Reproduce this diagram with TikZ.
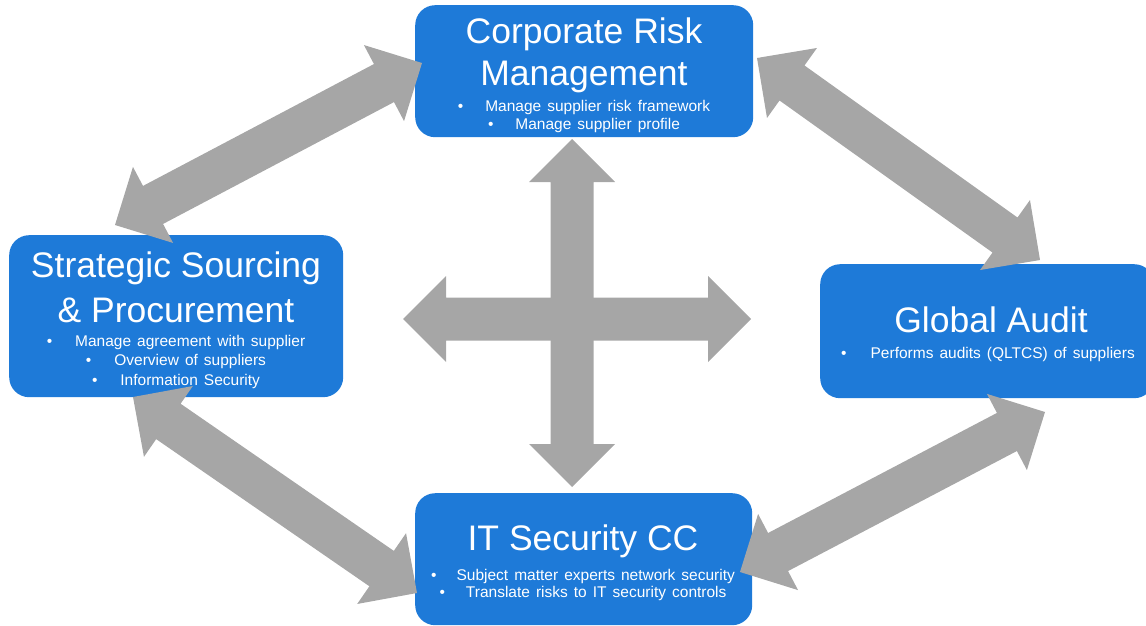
\documentclass[tikz,border=0pt]{standalone}
\usepackage{fontspec}
\setmainfont{Liberation Sans}
\newfontfamily\bulletfont[WordSpace=1.4]{Liberation Sans}
\usetikzlibrary{calc}
\definecolor{boxblue}{RGB}{30,122,216}
\definecolor{arrgray}{RGB}{166,166,166}
\newcommand{\dblarrow}[2]{%
  \coordinate (#1h) at ($(#1)!43pt!(#2)$);
  \coordinate (#2h) at ($(#2)!43pt!(#1)$);
  \fill[arrowfill] (#1) -- ($(#1h)!43pt!90:(#2)$) -- ($(#1h)!21.5pt!90:(#2)$)
    -- ($(#2h)!21.5pt!90:(#2)$) -- ($(#2h)!43pt!90:(#2)$) -- (#2)
    -- ($(#2h)!43pt!-90:(#2)$) -- ($(#2h)!21.5pt!-90:(#2)$)
    -- ($(#1h)!21.5pt!-90:(#2)$) -- ($(#1h)!43pt!-90:(#2)$) -- cycle;
}
\begin{document}
\begin{tikzpicture}[x=1pt,y=-1pt,
  box/.style={fill=boxblue, draw=none, rounded corners=20pt, inner sep=0pt, anchor=north west},
  title/.style={text=white, font=\fontsize{35.5}{40}\selectfont, inner sep=0pt, anchor=base},
  bul/.style={text=white, font=\bulletfont\fontsize{15.5}{18}\selectfont, inner sep=0pt, anchor=base},
  arrowfill/.style={fill=arrgray, draw=none}]
\useasboundingbox (0,0) rectangle (1146,626);
% boxes
\node[box, minimum width=338pt, minimum height=132pt] (crm) at (415,5) {};
\node[box, minimum width=334pt, minimum height=162pt] (ssp) at (9,235) {};
\node[box, minimum width=334pt, minimum height=134pt] (ga) at (820,264) {};
\node[box, minimum width=337pt, minimum height=132pt] (itc) at (415,493) {};
% texts
\node[title] (crm1) at (584,44) {Corporate Risk};
\node[title] (crm2) at (584,85) {Management};
\node[bul] (crm3) at (584,111) {•\hspace{22pt}Manage supplier risk framework};
\node[bul] (crm4) at (584,129) {•\hspace{22pt}Manage supplier profile};
\node[title] (ssp1) at (176,277) {Strategic Sourcing};
\node[title] (ssp2) at (176,322) {\& Procurement};
\node[bul] (ssp3) at (176,346) {•\hspace{23pt}Manage agreement with supplier};
\node[bul] (ssp4) at (176,365) {•\hspace{23pt}Overview of suppliers};
\node[bul] (ssp5) at (176,385) {•\hspace{23pt}Information Security};
\node[title] (ga1) at (991,332) {Global Audit};
\node[bul] (ga2) at (988,358) {•\hspace{24pt}Performs audits (QLTCS) of suppliers};
\node[title] (itc1) at (583,550) {IT Security CC};
\node[bul] (itc2) at (583,580) {•\hspace{20pt}Subject matter experts network security};
\node[bul] (itc3) at (583,597) {•\hspace{21pt}Translate risks to IT security controls};
% arrow tips
\coordinate (a1s) at (115,225); \coordinate (a1e) at (422,63);
\coordinate (a2s) at (757,58);  \coordinate (a2e) at (1040,260);
\coordinate (a3s) at (133,397); \coordinate (a3e) at (417,593);
\coordinate (a4s) at (740,572); \coordinate (a4e) at (1045,412);
\coordinate (vs) at (572,139);  \coordinate (ve) at (572,487);
\coordinate (hs) at (403,319);  \coordinate (he) at (751,319);
\dblarrow{a1s}{a1e}
\dblarrow{a2s}{a2e}
\dblarrow{a3s}{a3e}
\dblarrow{a4s}{a4e}
\dblarrow{vs}{ve}
\dblarrow{hs}{he}
\end{tikzpicture}
\end{document}
